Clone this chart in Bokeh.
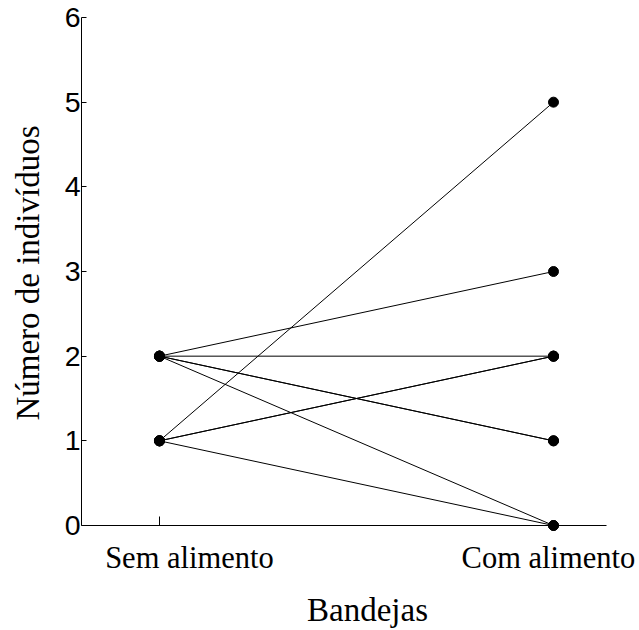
import math
from bokeh.plotting import figure
from bokeh.models import FixedTicker, Range1d, Label
from bokeh.embed import file_html
from bokeh.resources import INLINE

# Data: each pair is one tray (Sem alimento -> Com alimento)
categories = ["Sem alimento", "Com alimento"]
sem_alimento = [1, 2, 2, 2, 2, 1, 1, 2, 1]
com_alimento = [5, 3, 2, 1, 1, 2, 2, 0, 0]
y_ticks = [0, 1, 2, 3, 4, 5, 6]
x_title = "Bandejas"
y_title = "Número de indivíduos"

xpos = [1, 2]
serif = "Liberation Serif"

# The frame covers the whole canvas; axes are drawn at fixed data locations
p = figure(width=637, height=628, output_backend="svg", toolbar_location=None,
           x_range=Range1d(0.59645, 2.2132), y_range=Range1d(-1.2165, 6.2008),
           min_border=0)

p.outline_line_color = None
p.xgrid.visible = False
p.ygrid.visible = False

xs = [[xpos[0], xpos[1]] for _ in sem_alimento]
ys = [[a, b] for a, b in zip(sem_alimento, com_alimento)]
p.multi_line(xs, ys, line_color="black", line_width=1)

px = [xpos[0]] * len(sem_alimento) + [xpos[1]] * len(com_alimento)
py = sem_alimento + com_alimento
p.scatter(px, py, size=10, color="black")

# x axis at y = 0, single tick at the first category
p.xaxis.fixed_location = 0
p.xaxis.bounds = (0.802, 2.1345)
p.xaxis.ticker = FixedTicker(ticks=[xpos[0]])
p.xaxis.major_label_overrides = {1: ""}
p.xaxis.major_label_text_font_size = "0px"
p.xaxis.minor_tick_line_color = None
p.xaxis.major_tick_in = 9
p.xaxis.major_tick_out = 0
p.xaxis.axis_line_color = "black"

# y axis at the left edge of the plotting area, from 0 to 6
p.yaxis.fixed_location = 0.802
p.yaxis.bounds = (0, 6)
p.yaxis.ticker = FixedTicker(ticks=y_ticks)
p.yaxis.minor_tick_line_color = None
p.yaxis.major_tick_in = 5
p.yaxis.major_tick_out = 0
p.yaxis.axis_line_color = "black"
p.yaxis.major_label_text_font = "Liberation Sans"
p.yaxis.major_label_text_font_size = "28.5px"
p.yaxis.major_label_text_color = "black"
p.yaxis.major_label_standoff = 1

# texts
p.add_layout(Label(x=xpos[0] + 0.076, y=-0.378, text=categories[0], text_align="center",
                   text_baseline="alphabetic", text_font=serif, text_font_size="30.5px",
                   text_color="black"))
p.add_layout(Label(x=xpos[1] - 0.013, y=-0.378, text=categories[1], text_align="center",
                   text_baseline="alphabetic", text_font=serif, text_font_size="30.5px",
                   text_color="black"))
p.add_layout(Label(x=1.528, y=-0.993, text=x_title, text_align="center",
                   text_baseline="alphabetic", text_font=serif, text_font_size="33px",
                   text_color="black"))
p.add_layout(Label(x=0.665, y=2.982, text=y_title, angle=math.pi / 2, text_align="center",
                   text_baseline="alphabetic", text_font=serif, text_font_size="33px",
                   text_color="black"))

open("out.html", "w").write(file_html(p, INLINE))
